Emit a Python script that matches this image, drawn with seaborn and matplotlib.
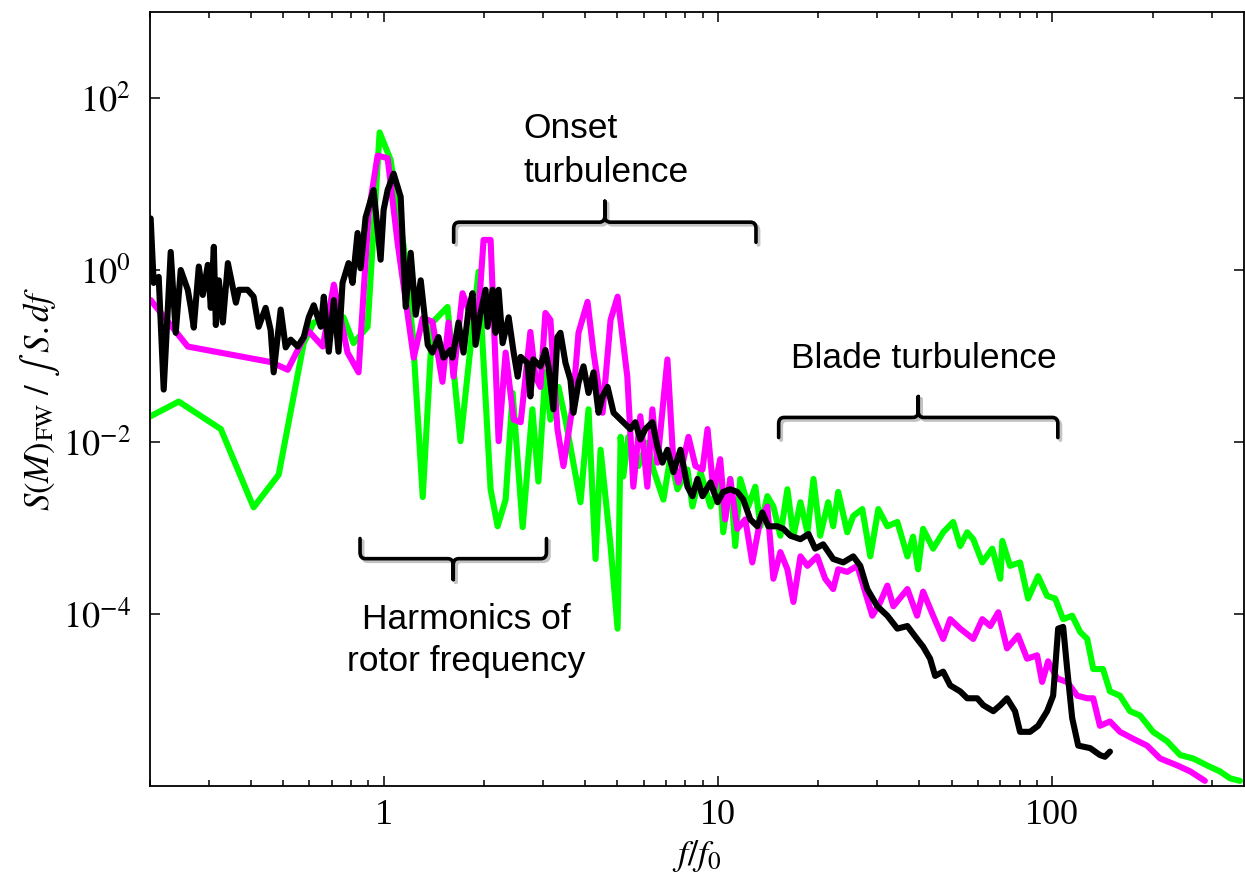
import numpy as np
import pandas as pd
import matplotlib
matplotlib.use("Agg")
import matplotlib.pyplot as plt
import matplotlib.ticker as mticker
import matplotlib.transforms as mtransforms
from matplotlib.path import Path
from matplotlib.patches import PathPatch
import seaborn as sns

# spectra, kept as log10 of f/f0 and of S
green_logf = [-0.697, -0.613, -0.487, -0.389, -0.314, -0.239, -0.209, -0.120, -0.090, -0.048,
              -0.012, 0.021, 0.060, 0.087, 0.117, 0.146, 0.191, 0.230, 0.284, 0.320,
              0.341, 0.365, 0.386, 0.416, 0.445, 0.463, 0.484, 0.499, 0.523, 0.544,
              0.589, 0.613, 0.634, 0.649, 0.679, 0.700, 0.709, 0.717, 0.732, 0.762,
              0.789, 0.807, 0.837, 0.858, 0.879, 0.909, 0.924, 0.948, 0.978, 1.007,
              1.016, 1.037, 1.052, 1.067, 1.091, 1.112, 1.127, 1.148, 1.166, 1.187,
              1.208, 1.226, 1.247, 1.268, 1.286, 1.306, 1.330, 1.345, 1.360, 1.387,
              1.405, 1.432, 1.456, 1.480, 1.507, 1.537, 1.567, 1.584, 1.599, 1.614,
              1.644, 1.674, 1.704, 1.725, 1.746, 1.764, 1.791, 1.821, 1.845, 1.851,
              1.874, 1.904, 1.928, 1.958, 1.985, 2.009, 2.033, 2.060, 2.084, 2.105,
              2.123, 2.152, 2.173, 2.203, 2.233, 2.263, 2.302, 2.344, 2.383, 2.422,
              2.463, 2.502, 2.532, 2.562]
green_logs = [-1.70, -1.53, -1.85, -2.76, -2.38, -0.85, -0.61, -0.55, -0.85, -0.66,
              1.60, 1.28, 0.27, -0.75, -2.64, -0.61, -0.43, -1.99, -0.02, -2.55,
              -2.98, -2.67, -1.43, -2.99, -1.62, -2.46, -1.19, -1.74, -1.36, -1.74,
              -2.70, -1.62, -3.36, -2.09, -3.21, -4.17, -1.94, -2.40, -1.94, -2.28,
              -2.01, -2.32, -2.67, -2.17, -2.55, -2.32, -2.75, -2.35, -2.75, -2.47,
              -3.05, -2.43, -3.21, -2.43, -2.75, -2.52, -2.98, -2.63, -2.75, -3.09,
              -2.55, -3.09, -2.70, -3.05, -2.43, -3.09, -2.70, -2.98, -2.58, -3.05,
              -2.86, -2.78, -3.33, -2.78, -2.98, -2.93, -3.33, -3.10, -3.48, -3.01,
              -3.24, -3.05, -2.93, -3.21, -3.05, -3.13, -3.40, -3.24, -3.59, -3.15,
              -3.44, -3.40, -3.82, -3.56, -3.79, -3.82, -4.06, -4.02, -4.21, -4.29,
              -4.64, -4.64, -4.90, -4.95, -5.13, -5.18, -5.37, -5.48, -5.64, -5.68,
              -5.76, -5.83, -5.91, -5.94]

magenta_logf = [-0.697, -0.586, -0.407, -0.338, -0.287, -0.227, -0.182, -0.149, -0.108, -0.075,
                -0.045, -0.018, 0.012, 0.042, 0.090, 0.117, 0.146, 0.176, 0.194, 0.209,
                0.236, 0.251, 0.281, 0.299, 0.320, 0.344, 0.365, 0.389, 0.410, 0.439,
                0.454, 0.469, 0.484, 0.499, 0.520, 0.538, 0.565, 0.583, 0.610, 0.628,
                0.655, 0.679, 0.700, 0.729, 0.747, 0.768, 0.789, 0.804, 0.819, 0.849,
                0.867, 0.882, 0.912, 0.933, 0.954, 0.969, 0.987, 1.007, 1.022, 1.037,
                1.058, 1.082, 1.103, 1.127, 1.148, 1.166, 1.187, 1.208, 1.226, 1.247,
                1.268, 1.297, 1.321, 1.345, 1.360, 1.387, 1.417, 1.435, 1.462, 1.486,
                1.507, 1.525, 1.567, 1.596, 1.614, 1.644, 1.674, 1.695, 1.725, 1.764,
                1.791, 1.815, 1.839, 1.865, 1.898, 1.925, 1.955, 1.970, 1.988, 2.015,
                2.045, 2.075, 2.105, 2.123, 2.143, 2.173, 2.203, 2.242, 2.284, 2.323,
                2.374, 2.413, 2.457]
magenta_logs = [-0.35, -0.89, -1.02, -1.07, -1.16, -0.70, -0.89, -0.17, -0.96, -1.19,
                0.66, 1.33, 1.30, 0.31, -1.02, -0.56, -0.60, -1.30, -0.61, -1.24,
                -0.27, -0.43, -0.66, 0.35, 0.35, -1.99, -0.96, -1.74, -1.77, -0.72,
                -1.24, -1.36, -0.50, -0.58, -1.85, -2.28, -1.59, -0.73, -0.37, -0.96,
                -1.66, -0.58, -0.31, -1.24, -2.52, -1.70, -2.52, -1.62, -2.24, -1.04,
                -2.24, -2.47, -1.94, -2.28, -2.32, -1.85, -2.58, -2.20, -2.90, -2.43,
                -3.01, -2.90, -3.40, -2.90, -2.75, -3.59, -3.28, -3.48, -3.86, -3.33,
                -3.44, -3.33, -3.59, -3.71, -3.48, -3.51, -3.44, -3.67, -4.02, -3.86,
                -3.67, -3.91, -3.71, -4.02, -3.74, -4.02, -4.29, -4.06, -4.17, -4.29,
                -4.06, -4.14, -3.98, -4.40, -4.25, -4.52, -4.48, -4.79, -4.55, -4.75,
                -4.79, -4.95, -4.98, -4.98, -5.30, -5.25, -5.37, -5.45, -5.53, -5.68,
                -5.76, -5.83, -5.94]

black_logf = [-0.697, -0.688, -0.673, -0.658, -0.637, -0.622, -0.607, -0.586, -0.577, -0.568,
              -0.553, -0.541, -0.526, -0.517, -0.508, -0.502, -0.493, -0.481, -0.466, -0.442,
              -0.433, -0.407, -0.389, -0.374, -0.353, -0.338, -0.329, -0.308, -0.293, -0.278,
              -0.257, -0.239, -0.224, -0.209, -0.188, -0.179, -0.164, -0.149, -0.135, -0.123,
              -0.105, -0.093, -0.078, -0.069, -0.054, -0.039, -0.030, -0.009, 0.000, 0.012,
              0.030, 0.051, 0.066, 0.081, 0.096, 0.111, 0.132, 0.146, 0.164, 0.179,
              0.200, 0.206, 0.224, 0.239, 0.254, 0.266, 0.275, 0.290, 0.305, 0.311,
              0.326, 0.335, 0.344, 0.356, 0.374, 0.389, 0.401, 0.410, 0.430, 0.439,
              0.448, 0.469, 0.484, 0.493, 0.508, 0.520, 0.529, 0.544, 0.559, 0.568,
              0.583, 0.598, 0.613, 0.628, 0.643, 0.655, 0.670, 0.688, 0.709, 0.738,
              0.753, 0.768, 0.783, 0.804, 0.819, 0.834, 0.849, 0.867, 0.888, 0.909,
              0.924, 0.939, 0.954, 0.978, 0.999, 1.016, 1.037, 1.058, 1.076, 1.097,
              1.118, 1.133, 1.151, 1.178, 1.196, 1.217, 1.247, 1.271, 1.291, 1.315,
              1.345, 1.375, 1.405, 1.426, 1.447, 1.477, 1.507, 1.537, 1.567, 1.596,
              1.614, 1.635, 1.650, 1.674, 1.695, 1.725, 1.746, 1.776, 1.794, 1.824,
              1.845, 1.865, 1.889, 1.904, 1.934, 1.958, 1.985, 2.003, 2.018, 2.033,
              2.045, 2.060, 2.078, 2.114, 2.143, 2.158, 2.173]
black_logs = [0.60, -0.15, -0.08, -1.39, 0.21, -0.73, 0.00, -0.23, -0.43, -0.67,
              0.04, -0.29, 0.06, -0.44, 0.27, -0.64, -0.12, -0.61, 0.08, -0.38,
              -0.23, -0.23, -0.31, -0.66, -0.44, -0.70, -1.19, -0.46, -0.90, -0.81,
              -0.89, -0.78, -0.55, -0.41, -0.66, -0.31, -0.95, -0.35, -0.95, -0.15,
              0.08, -0.15, 0.43, 0.02, 0.61, 0.81, 0.93, 0.12, 0.70, 0.93,
              1.12, 0.85, -0.43, 0.20, -0.52, -0.12, -0.87, -0.96, -0.78, -1.02,
              -0.93, -1.02, -0.61, -0.96, -0.46, -0.27, -0.87, -0.50, -0.23, -0.66,
              -0.23, -0.73, -0.23, -0.85, -0.55, -0.96, -1.24, -1.01, -1.08, -1.47,
              -1.04, -1.12, -0.93, -1.12, -1.62, -0.78, -0.73, -1.08, -1.28, -1.66,
              -1.31, -1.12, -1.43, -1.19, -1.66, -1.47, -1.36, -1.66, -1.74, -1.85,
              -1.77, -1.97, -1.85, -1.77, -2.05, -2.24, -2.09, -2.35, -2.09, -2.52,
              -2.63, -2.43, -2.63, -2.47, -2.70, -2.58, -2.55, -2.58, -2.67, -2.90,
              -2.98, -2.82, -2.98, -2.98, -3.01, -3.09, -3.13, -3.07, -3.24, -3.19,
              -3.36, -3.40, -3.33, -3.44, -3.71, -3.91, -4.02, -4.17, -4.14, -4.29,
              -4.38, -4.52, -4.72, -4.67, -4.83, -4.90, -4.98, -4.98, -5.06, -5.13,
              -5.06, -4.98, -5.13, -5.37, -5.37, -5.30, -5.13, -4.95, -4.17, -4.15,
              -4.64, -5.21, -5.53, -5.56, -5.64, -5.66, -5.60]

series_names = ["green", "magenta", "black"]
series_colors = ["#00ff00", "#ff00ff", "#000000"]

xtick_vals = [1, 10, 100]
xtick_labels = ["1", "10", "100"]
ytick_vals = [1e-4, 1e-2, 1e0, 1e2]
ytick_labels = [r"$10^{-4}$", r"$10^{-2}$", r"$10^{0}$", r"$10^{2}$"]

# annotations: (text, f, S) anchor points and brace spans (f start, f end, S level)
onset_text = ("Onset\nturbulence", 2.62, 69.5)
blade_text = ("Blade turbulence", 41.3, 0.073)
harm_text = ("Harmonics of\nrotor frequency", 1.77, 1.35e-4)
onset_brace = (1.62, 13.0, 3.6)
blade_brace = (15.2, 104.0, 0.0193)
harm_brace = (0.85, 3.07, 4.4e-4)

sns.set_style("ticks")
plt.rcParams["font.family"] = ["Liberation Serif", "DejaVu Serif"]
plt.rcParams["mathtext.fontset"] = "stix"
for key in ["text.color", "axes.labelcolor", "xtick.color", "ytick.color", "axes.edgecolor"]:
    plt.rcParams[key] = "black"

frames = []
for name, lf, ls in zip(series_names, [green_logf, magenta_logf, black_logf],
                        [green_logs, magenta_logs, black_logs]):
    frames.append(pd.DataFrame({"f": 10 ** np.array(lf), "S": 10 ** np.array(ls), "series": name}))
df = pd.concat(frames, ignore_index=True)

fig = plt.figure(figsize=(12.45, 8.75), dpi=100)
ax = fig.add_axes([150 / 1245, 89 / 875, 1094 / 1245, 774 / 875])

sns.lineplot(data=df, x="f", y="S", hue="series", hue_order=series_names,
             palette=dict(zip(series_names, series_colors)), estimator=None, sort=False,
             legend=False, ax=ax)
for line in ax.lines:
    line.set_linewidth(4.4)
    line.set_solid_joinstyle("round")
    line.set_solid_capstyle("round")

ax.set_xscale("log")
ax.set_yscale("log")
ax.set_xlim(0.2, 375)
ax.set_ylim(1e-6, 1e3)

ax.xaxis.set_major_locator(mticker.FixedLocator(xtick_vals))
ax.xaxis.set_major_formatter(mticker.FixedFormatter(xtick_labels))
ax.xaxis.set_minor_locator(mticker.LogLocator(base=10, subs=np.arange(2, 10)))
ax.xaxis.set_minor_formatter(mticker.NullFormatter())
ax.yaxis.set_major_locator(mticker.FixedLocator(ytick_vals))
ax.yaxis.set_major_formatter(mticker.FixedFormatter(ytick_labels))
ax.yaxis.set_minor_locator(mticker.NullLocator())

ax.tick_params(which="both", direction="in", top=True, right=True, width=1.1, color="black")
ax.tick_params(which="major", length=7.5)
ax.tick_params(which="minor", length=4.3)
ax.tick_params(axis="x", pad=9, labelsize=26, labelcolor="black")
ax.tick_params(axis="y", pad=14, labelsize=26, labelcolor="black")
for sp in ax.spines.values():
    sp.set_visible(True)
    sp.set_linewidth(1.3)
    sp.set_color("black")

ax.set_xlabel(r"$f/f_{0}$", fontsize=26, color="black")
ax.set_ylabel(r"$S(M)_{\mathrm{FW}}\ /\ \int\ S.df$", fontsize=25, color="black")
ax.xaxis.set_label_coords(0.5, -0.067)
ax.yaxis.set_label_coords(-0.08, 0.5)


def brace(ax, f0, f1, s, arms_up=False, arm=0.026, tip=0.027, rx=0.005, ry=0.008):
    """Draw a horizontal curly brace between f0 and f1 at level s (data units)."""
    to_axes = ax.transScale + ax.transLimits
    (x0, y), (x1, _) = to_axes.transform([(f0, s), (f1, s)])
    xm = (x0 + x1) / 2
    d = 1 if arms_up else -1
    verts, codes = [], []
    for xe, sx in [(x0, 1), (x1, -1)]:
        verts += [(xe, y + d * arm), (xe, y + d * ry), (xe, y), (xe + sx * rx, y),
                  (xm - sx * rx, y), (xm, y), (xm, y - d * ry), (xm, y - d * tip)]
        codes += [Path.MOVETO, Path.LINETO, Path.CURVE3, Path.CURVE3,
                  Path.LINETO, Path.CURVE3, Path.CURVE3, Path.LINETO]
    path = Path(verts, codes)
    shadow = mtransforms.offset_copy(ax.transAxes, fig=ax.figure, x=2.5, y=-2.5, units="dots")
    ax.add_patch(PathPatch(path, transform=shadow, fill=False, lw=2.8, ec="#aaaaaa",
                           alpha=0.7, capstyle="round", joinstyle="round", clip_on=False))
    ax.add_patch(PathPatch(path, transform=ax.transAxes, fill=False, lw=2.6, ec="black",
                           capstyle="round", joinstyle="round", clip_on=False))


brace(ax, *onset_brace)
brace(ax, *blade_brace)
brace(ax, *harm_brace, arms_up=True)

sans = ["Liberation Sans", "DejaVu Sans"]
ax.text(onset_text[1], onset_text[2], onset_text[0], ha="left", va="top", fontsize=25.5,
        family=sans, linespacing=1.45, color="black")
ax.text(blade_text[1], blade_text[2], blade_text[0], ha="center", va="baseline", fontsize=25.5,
        family=sans, color="black")
ax.text(harm_text[1], harm_text[2], harm_text[0], ha="center", va="top", fontsize=25.5,
        family=sans, linespacing=1.35, multialignment="center", color="black")

fig.savefig("out.png", dpi=100)
